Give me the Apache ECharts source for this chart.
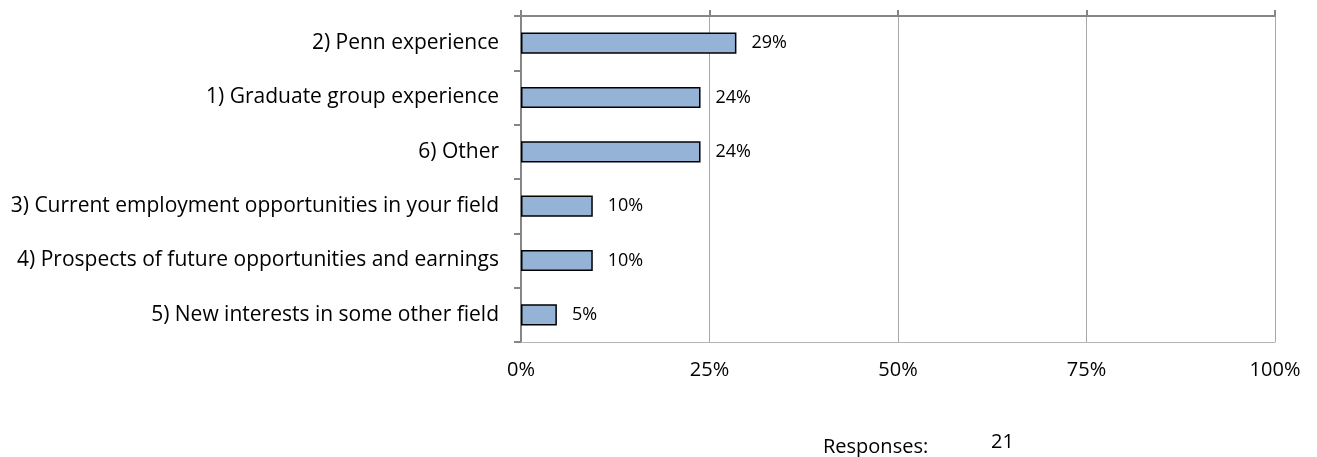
<!DOCTYPE html>
<html>
<head>
<meta charset="utf-8">
<script src="https://cdn.jsdelivr.net/npm/echarts@6/dist/echarts.min.js"></script>
<style>html,body{margin:0;padding:0;background:#fff;}#c{width:1317px;height:457px;}</style>
</head>
<body>
<div id="c"></div>
<script>
const categories = [
  '2) Penn experience',
  '1) Graduate group experience',
  '6) Other',
  '3) Current employment opportunities in your field',
  '4) Prospects of future opportunities and earnings',
  '5) New interests in some other field'
];
const values = [28.57, 23.81, 23.81, 9.52, 9.52, 4.76];
const valueLabels = ['29%', '24%', '24%', '10%', '10%', '5%'];
const xTicks = [0, 25, 50, 75, 100];
const responsesCount = '21';

const FONT = 'Open Sans';
const chart = echarts.init(document.getElementById('c'));
chart.setOption({
  animation: false,
  grid: { left: 521, top: 16, right: 42, bottom: 115, containLabel: false },
  xAxis: [
    {
      type: 'value', position: 'top', min: xTicks[0], max: xTicks[xTicks.length - 1], interval: 25,
      axisLine: { show: true, lineStyle: { color: '#868686', width: 2 } },
      axisTick: { show: true, length: 6, lineStyle: { color: '#868686', width: 2 } },
      axisLabel: { show: false },
      splitLine: { show: true, lineStyle: { color: '#a8a8a8', width: 1 } }
    },
    {
      type: 'value', position: 'bottom', min: xTicks[0], max: xTicks[xTicks.length - 1], interval: 25,
      axisLine: { show: true, lineStyle: { color: '#b4b4b4', width: 1 } }, axisTick: { show: false }, splitLine: { show: false },
      axisLabel: { show: true, margin: 18, formatter: '{value}%', color: '#000', fontFamily: FONT, fontSize: 20 }
    }
  ],
  yAxis: {
    type: 'category', data: categories, inverse: true,
    axisLine: { show: true, lineStyle: { color: '#868686', width: 2 } },
    axisTick: { show: true, length: 7, lineStyle: { color: '#868686', width: 2 } },
    axisLabel: { margin: 22, color: '#000', fontFamily: FONT, fontSize: 21 },
    splitLine: { show: false }
  },
  series: [{
    type: 'bar', xAxisIndex: 0, data: values, barCategoryGap: '61%',
    itemStyle: { color: '#95b3d7', borderColor: '#000', borderWidth: 1.5 },
    label: {
      show: true, position: 'right', distance: 15, color: '#000', fontFamily: FONT, fontSize: 18,
      formatter: p => valueLabels[p.dataIndex]
    }
  }],
  graphic: [
    { type: 'text', x: 823, y: 447, style: { text: 'Responses:', font: '20px "Open Sans"', fill: '#000', verticalAlign: 'middle' } },
    { type: 'text', x: 991, y: 442, style: { text: responsesCount, font: '20px "Open Sans"', fill: '#000', verticalAlign: 'middle' } }
  ]
});
</script>
</body>
</html>
